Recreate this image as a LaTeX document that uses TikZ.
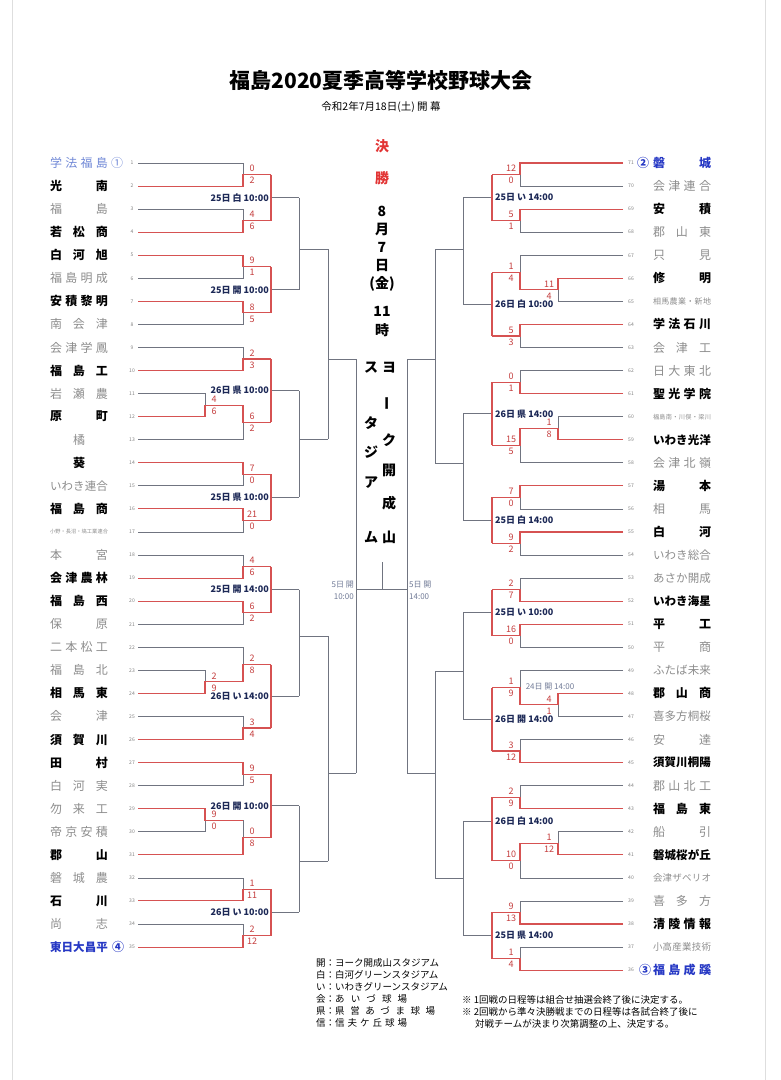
\documentclass[tikz,border=0pt]{standalone}
\usepackage{fontspec}
\setmainfont{Noto Sans CJK JP}
\usetikzlibrary{positioning}

\definecolor{wincol}{RGB}{214,82,82}
\definecolor{loscol}{RGB}{112,116,128}
\definecolor{scorecol}{RGB}{196,62,62}
\definecolor{fincol}{RGB}{226,52,52}
\definecolor{labcol}{RGB}{28,40,86}
\definecolor{namegray}{RGB}{140,140,140}
\definecolor{seedcol}{RGB}{38,56,196}
\definecolor{seedpale}{RGB}{112,136,214}
\definecolor{slate}{RGB}{112,122,150}
\definecolor{pagecol}{RGB}{222,222,222}

% row -> y (pt, downwards)
\newcommand\rowy[1]{{163+23.06*(#1)}}
% spread the letters of a name over a fixed width
\newcommand\spreadA[1]{#1\spreadB}
\newcommand\spreadB[1]{\ifx\relax#1\else\hfil#1\expandafter\spreadB\fi}
\newcommand\tname[2][58pt]{\makebox[#1][s]{\expandafter\spreadA#2\relax}}

\newcount\bcnt
% one game: offset, x start a, x start b, x vertical, x next, row a, row b, score a, score b
\newcommand\bout[9]{%
  \global\advance\bcnt by 1
  \pgfmathsetmacro\ym{(#6+#7)/2}%
  \ifnum#8>#9\relax
    \draw[losl] (#3,\rowy{#7}) -| (#4,\rowy{\ym});
    \draw[winl] (#2,\rowy{#6}) -| (#4,\rowy{\ym}) -- (#5,\rowy{\ym});
  \else
    \draw[losl] (#2,\rowy{#6}) -| (#4,\rowy{\ym});
    \draw[winl] (#3,\rowy{#7}) -| (#4,\rowy{\ym}) -- (#5,\rowy{\ym});
  \fi
  \node[score] (sa\the\bcnt) at ({#4+(#1)},\rowy{\ym-0.26}) {#8};
  \node[score] (sb\the\bcnt) at ({#4+(#1)},\rowy{\ym+0.26}) {#9};
}
% next round still to play: x vertical, x next, row a, row b, row out, label, anchor, offset
\newcommand\junc[8]{%
  \global\advance\bcnt by 1
  \draw[losl] (#1,\rowy{#5}) -- (#2,\rowy{#5});
  \draw[winl] (#1,\rowy{#3}) -- (#1,\rowy{#4});
  \node[mlab, anchor=#7] (m\the\bcnt) at ({#1+(#8)},\rowy{#5}) {#6};
}

\tikzset{
  winl/.style={wincol, line width=1.1pt},
  losl/.style={loscol, line width=0.7pt},
  score/.style={text=scorecol, font=\fontsize{9}{9}\selectfont, inner sep=0pt},
  mlab/.style={text=labcol, font=\bfseries\fontsize{9}{9}\selectfont, inner sep=0pt},
  num/.style={text=gray, font=\fontsize{5}{5}\selectfont, inner sep=0pt},
  wn/.style={font=\bfseries\fontsize{12}{12}\selectfont, inner sep=0pt},
  ls/.style={text=namegray, font=\fontsize{12}{12}\selectfont, inner sep=0pt},
  wnf/.style={wn, font=\bfseries\fontsize{11.5}{11.5}\selectfont},
  lsf/.style={ls, font=\fontsize{11.5}{11.5}\selectfont},
  lsm/.style={ls, font=\fontsize{9.5}{9.5}\selectfont},
  lss/.style={ls, font=\fontsize{8}{8}\selectfont},
  lst/.style={ls, font=\fontsize{6.2}{6.2}\selectfont},
  lsxs/.style={ls, font=\fontsize{5.2}{5.2}\selectfont},
  sdw/.style={wn, text=seedcol},
  sdwf/.style={wnf, text=seedcol},
  sdl/.style={ls, text=seedpale},
  fin/.style={font=\bfseries\fontsize{14}{14}\selectfont, inner sep=0pt},
  clab/.style={text=slate, font=\fontsize{8}{12}\selectfont, inner sep=0pt},
  leg/.style={font=\fontsize{9.5}{9.5}\selectfont, inner sep=0pt, anchor=west},
}

\begin{document}
\begin{tikzpicture}[x=1pt,y=-1pt]
\useasboundingbox (0,0) rectangle (780,1080);
\draw[pagecol, line width=1.2pt] (12.5,0) -- (12.5,1080) (765.5,0) -- (765.5,1080);

% title
\node[font=\bfseries\fontsize{21}{21}\selectfont, inner sep=0pt] (ttl) at (381,80) {福島2020夏季高等学校野球大会};
\node[font=\fontsize{10.5}{10.5}\selectfont, inner sep=0pt, below=11.5pt of ttl] (sub) {令和2年7月18日(土) 開 幕};

% left teams
\foreach \n/\nm/\st in {1/{学法福島}/sdl, 2/{光南}/wn, 3/{福島}/ls, 4/{若松商}/wn, 5/{白河旭}/wn,
  6/{福島明成}/ls, 7/{安積黎明}/wn, 8/{南会津}/ls, 9/{会津学鳳}/ls, 10/{福島工}/wn,
  11/{岩瀬農}/ls, 12/{原町}/wn, 13/{\hfil 橘\hfil}/ls, 14/{\hfil 葵\hfil}/wn, 15/{いわき連合}/lsf,
  16/{福島商}/wn, 17/{小野・長沼・塙工業連合}/lsxs, 18/{本宮}/ls, 19/{会津農林}/wn, 20/{福島西}/wn,
  21/{保原}/ls, 22/{二本松工}/ls, 23/{福島北}/ls, 24/{相馬東}/wn, 25/{会津}/ls,
  26/{須賀川}/wn, 27/{田村}/wn, 28/{白河実}/ls, 29/{勿来工}/ls, 30/{帝京安積}/ls,
  31/{郡山}/wn, 32/{磐城農}/ls, 33/{石川}/wn, 34/{尚志}/ls, 35/{東日大昌平}/sdwf}
{
  \node[\st] (t\n) at (79,\rowy{\n-1}) {\tname{\nm}};
  \node[num] (n\n) at (132,\rowy{\n-1}) {\n};
}
\node[sdl] (c1) at (117,\rowy{0}) {①};
\node[sdw] (c4) at (118,\rowy{34}) {④};

% right teams
\foreach \n/\nm/\st in {71/{磐城}/sdw, 70/{会津連合}/ls, 69/{安積}/wn, 68/{郡山東}/ls, 67/{只見}/ls,
  66/{修明}/wn, 65/{相馬農業・新地}/lss, 64/{学法石川}/wn, 63/{会津工}/ls, 62/{日大東北}/ls,
  61/{聖光学院}/wn, 60/{福島南・川俣・梁川}/lst, 59/{いわき光洋}/wnf, 58/{会津北嶺}/ls, 57/{湯本}/wn,
  56/{相馬}/ls, 55/{白河}/wn, 54/{いわき総合}/lsf, 53/{あさか開成}/lsf, 52/{いわき海星}/wnf,
  51/{平工}/wn, 50/{平商}/ls, 49/{ふたば未来}/lsf, 48/{郡山商}/wn, 47/{喜多方桐桜}/lsf,
  46/{安達}/ls, 45/{須賀川桐陽}/wnf, 44/{郡山北工}/ls, 43/{福島東}/wn, 42/{船引}/ls,
  41/{磐城桜が丘}/wnf, 40/{会津ザベリオ}/lsm, 39/{喜多方}/ls, 38/{清陵情報}/wn, 37/{小高産業技術}/lsm,
  36/{福島成蹊}/sdw}
{
  \node[\st] (t\n) at (682,\rowy{71-\n}) {\tname{\nm}};
  \node[num] (n\n) at (631,\rowy{71-\n}) {\n};
}
\node[sdw] (c2) at (643,\rowy{0}) {②};
\node[sdw] (c3) at (645,\rowy{35}) {③};

% left games
\bout{9}{138}{138}{243}{271}{0}{1}{0}{2}
\bout{9}{138}{138}{243}{271}{2}{3}{4}{6}
\bout{9}{138}{138}{243}{271}{4}{5}{9}{1}
\bout{9}{138}{138}{243}{271}{6}{7}{8}{5}
\bout{9}{138}{138}{243}{271}{8}{9}{2}{3}
\bout{9}{138}{138}{205}{243}{10}{11}{4}{6}
\bout{9}{243}{138}{243}{271}{10.5}{12}{6}{2}
\bout{9}{138}{138}{243}{271}{13}{14}{7}{0}
\bout{9}{138}{138}{243}{271}{15}{16}{21}{0}
\bout{9}{138}{138}{243}{271}{17}{18}{4}{6}
\bout{9}{138}{138}{243}{271}{19}{20}{6}{2}
\bout{9}{138}{138}{205}{243}{22}{23}{2}{9}
\bout{9}{138}{243}{243}{271}{21}{22.5}{2}{8}
\bout{9}{138}{138}{243}{271}{24}{25}{3}{4}
\bout{9}{138}{138}{243}{271}{26}{27}{9}{5}
\bout{9}{138}{138}{205}{243}{28}{29}{9}{0}
\bout{9}{243}{138}{243}{271}{28.5}{30}{0}{8}
\bout{9}{138}{138}{243}{271}{31}{32}{1}{11}
\bout{9}{138}{138}{243}{271}{33}{34}{2}{12}

\junc{271}{299}{0.5}{2.5}{1.5}{25日 白 10:00}{east}{-2}
\junc{271}{299}{4.5}{6.5}{5.5}{25日 開 10:00}{east}{-2}
\junc{271}{299}{8.5}{11.25}{9.875}{26日 県 10:00}{east}{-2}
\junc{271}{299}{13.5}{15.5}{14.5}{25日 県 10:00}{east}{-2}
\junc{271}{299}{17.5}{19.5}{18.5}{25日 開 14:00}{east}{-2}
\junc{271}{299}{21.75}{24.5}{23.125}{26日 い 14:00}{east}{-2}
\junc{271}{299}{26.5}{29.25}{27.875}{26日 開 10:00}{east}{-2}
\junc{271}{299}{31.5}{33.5}{32.5}{26日 い 10:00}{east}{-2}

% right games
\bout{-9}{623}{623}{520}{492}{0}{1}{12}{0}
\bout{-9}{623}{623}{520}{492}{2}{3}{5}{1}
\bout{-9}{623}{623}{558}{520}{5}{6}{11}{4}
\bout{-9}{623}{520}{520}{492}{4}{5.5}{1}{4}
\bout{-9}{623}{623}{520}{492}{7}{8}{5}{3}
\bout{-9}{623}{623}{520}{492}{9}{10}{0}{1}
\bout{-9}{623}{623}{558}{520}{11}{12}{1}{8}
\bout{-9}{520}{623}{520}{492}{11.5}{13}{15}{5}
\bout{-9}{623}{623}{520}{492}{14}{15}{7}{0}
\bout{-9}{623}{623}{520}{492}{16}{17}{9}{2}
\bout{-9}{623}{623}{520}{492}{18}{19}{2}{7}
\bout{-9}{623}{623}{520}{492}{20}{21}{16}{0}
\bout{-9}{623}{623}{558}{520}{23}{24}{4}{1}
\bout{-9}{623}{520}{520}{492}{22}{23.5}{1}{9}
\bout{-9}{623}{623}{520}{492}{25}{26}{3}{12}
\bout{-9}{623}{623}{520}{492}{27}{28}{2}{9}
\bout{-9}{623}{623}{558}{520}{29}{30}{1}{12}
\bout{-9}{520}{623}{520}{492}{29.5}{31}{10}{0}
\bout{-9}{623}{623}{520}{492}{32}{33}{9}{13}
\bout{-9}{623}{623}{520}{492}{34}{35}{1}{4}

\junc{492}{463}{0.5}{2.5}{1.5}{25日 い 14:00}{west}{3}
\junc{492}{463}{4.75}{7.5}{6.125}{26日 白 10:00}{west}{3}
\junc{492}{463}{9.5}{12.25}{10.875}{26日 県 14:00}{west}{3}
\junc{492}{463}{14.5}{16.5}{15.5}{25日 白 14:00}{west}{3}
\junc{492}{463}{18.5}{20.5}{19.5}{25日 い 10:00}{west}{3}
\junc{492}{463}{22.75}{25.5}{24.125}{26日 開 14:00}{west}{3}
\junc{492}{463}{27.5}{30.25}{28.53}{26日 白 14:00}{west}{3}
\junc{492}{463}{32.5}{34.5}{33.5}{25日 県 14:00}{west}{3}
\node[clab] (pre) at (550,687) {24日 開 14:00};

% quarter finals and on
\coordinate (qL1) at (299,249);  \coordinate (qL2) at (299,439);
\coordinate (qL3) at (299,636);  \coordinate (qL4) at (299,861);
\coordinate (sL1) at (328,359);  \coordinate (sL2) at (328,773);
\coordinate (qR1) at (463,249);  \coordinate (qR2) at (463,463);
\coordinate (qR3) at (463,671);  \coordinate (qR4) at (463,878);
\coordinate (sR1) at (435,359);  \coordinate (sR2) at (435,773);
\draw[losl] (299,\rowy{1.5}) -- (299,\rowy{5.5}) (qL1) -- (qL1 -| sL1);
\draw[losl] (299,\rowy{9.875}) -- (299,\rowy{14.5}) (qL2) -- (qL2 -| sL1);
\draw[losl] (299,\rowy{18.5}) -- (299,\rowy{23.125}) (qL3) -- (qL3 -| sL2);
\draw[losl] (299,\rowy{27.875}) -- (299,\rowy{32.5}) (qL4) -- (qL4 -| sL2);
\draw[losl] (qL1 -| sL1) -- (qL2 -| sL1) (sL1) -- (356,359);
\draw[losl] (qL3 -| sL2) -- (qL4 -| sL2) (sL2) -- (356,773);
\draw[losl] (463,\rowy{1.5}) -- (463,\rowy{6.125}) (qR1) -- (qR1 -| sR1);
\draw[losl] (463,\rowy{10.875}) -- (463,\rowy{15.5}) (qR2) -- (qR2 -| sR1);
\draw[losl] (463,\rowy{19.5}) -- (463,\rowy{24.125}) (qR3) -- (qR3 -| sR2);
\draw[losl] (463,\rowy{28.53}) -- (463,\rowy{33.5}) (qR4) -- (qR4 -| sR2);
\draw[losl] (qR1 -| sR1) -- (qR2 -| sR1) (sR1) -- (407,359);
\draw[losl] (qR3 -| sR2) -- (qR4 -| sR2) (sR2) -- (407,773);
\coordinate (fL) at (356,589);
\coordinate (fR) at (407,589);
\coordinate (fT) at (382,562);
\draw[losl] (356,359) -- (356,773) (407,359) -- (407,773);
\draw[losl] (fL) -- (fR) (fT) -- (fT |- fL);
\node[clab, anchor=east, align=right] (dL) at (354,590) {5日 開\\10:00};
\node[clab, anchor=west, align=left] (dR) at (409,590) {5日 開\\14:00};

% final
\node[fin, text=fincol] (k1) at (382,146) {決};
\node[fin, text=fincol] (k2) at (382,178) {勝};
\foreach \c/\yy [count=\i] in {8/211, 月/229, 7/247, 日/265, (金)/284, 11/311, 時/330}
  \node[fin] (d\i) at (382,\yy) {\c};
\foreach \c/\yy [count=\i] in {ヨ/368, ク/440, 開/470, 成/503, 山/537}
  \node[fin] (vr\i) at (389,\yy) {\c};
\node[fin, rotate=90] (vbar) at (389,403) {ー};
\foreach \c/\yy [count=\i] in {ス/368, タ/423, ジ/452, ア/483, ム/537}
  \node[fin] (vl\i) at (371,\yy) {\c};

% legend
\node[leg] (g1) at (316,963) {開：ヨーク開成山スタジアム};
\node[leg] (g2) at (316,975) {白：白河グリーンスタジアム};
\node[leg] (g3) at (316,987) {い：いわきグリーンスタジアム};
\node[leg] (g4) at (316,999) {会：\tname[72pt]{あいづ球場}};
\node[leg] (g5) at (316,1011) {県：\tname[100pt]{県営あづま球場}};
\node[leg] (g6) at (316,1023) {信：\tname[72pt]{信夫ケ丘球場}};
\node[leg] (nt1) at (462,1000) {※ 1回戦の日程等は組合せ抽選会終了後に決定する。};
\node[leg] (nt2) at (462,1012) {※ 2回戦から準々決勝戦までの日程等は各試合終了後に};
\node[leg] (nt3) at (475,1024) {対戦チームが決まり次第調整の上、決定する。};
\end{tikzpicture}
\end{document}
